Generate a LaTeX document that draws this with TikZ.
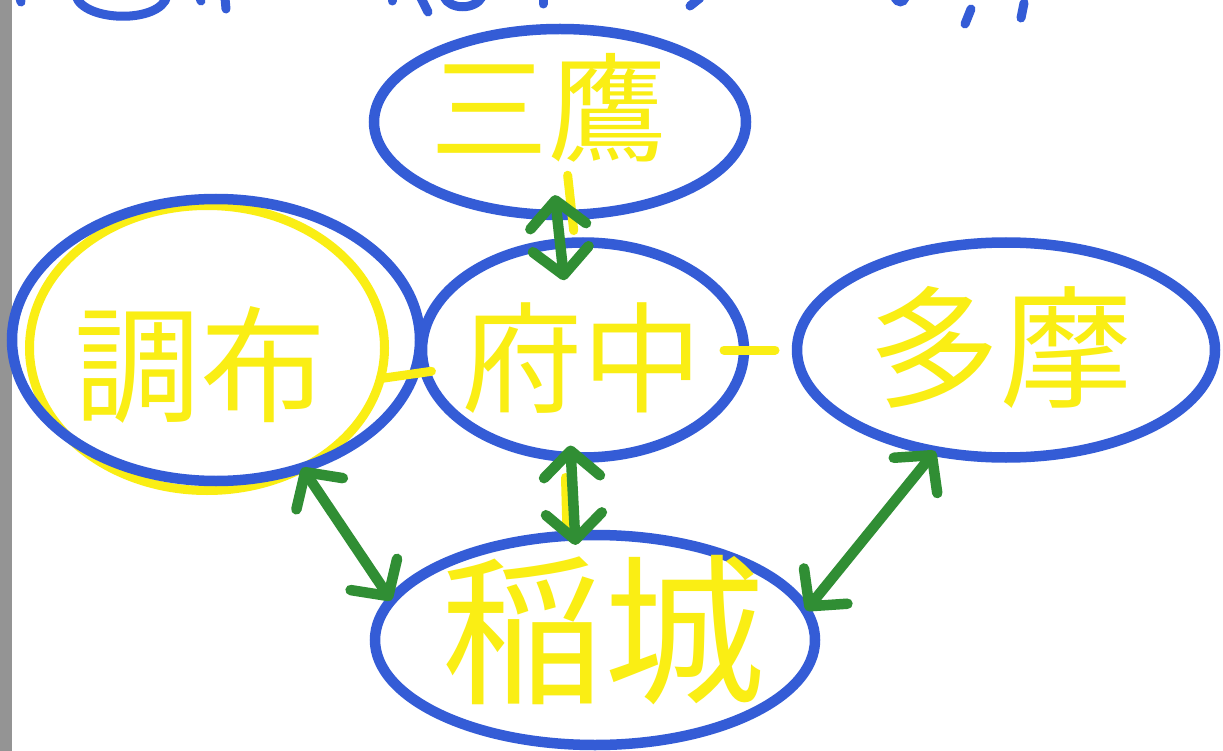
\documentclass[tikz,border=0pt]{standalone}
\usepackage{fontspec}
\newfontfamily\cjk{Noto Sans CJK JP}
\usetikzlibrary{shapes.geometric,arrows.meta}
\definecolor{penblue}{RGB}{52,92,214}
\definecolor{penyellow}{RGB}{250,238,20}
\definecolor{pengreen}{RGB}{48,142,52}
\tikzset{
  region/.style={ellipse,draw=penblue,line width=10.5pt,inner sep=0pt,outer sep=0pt},
  lbl/.style={text=penyellow,inner sep=0pt},
  yline/.style={draw=penyellow,line width=9pt,line cap=round},
  garrow/.style={draw=pengreen,line width=10.5pt,line cap=round,
    arrows={Straight Barb[length=26pt,width=56pt,round]-Straight Barb[length=26pt,width=56pt,round]}},
  bstroke/.style={draw=penblue,line width=9pt,line cap=round}
}
\begin{document}
\begin{tikzpicture}[x=1pt,y=-1pt]
\useasboundingbox (0,0) rectangle (1223,751);
\fill[white] (0,0) rectangle (1223,751);
\fill[black!42] (0,0) rectangle (12,751);
% cut-off handwriting at the top edge
\draw[bstroke] (76,-4) .. controls (84,22) and (160,24) .. (167,-4);
\draw[bstroke] (20,-2) -- (21,2);
\draw[bstroke] (200,-2) -- (201,1);
\draw[bstroke] (225,-2) -- (226,9);
\draw[bstroke] (392,-2) -- (392,1);
\draw[bstroke] (421,-2) -- (428,12);
\draw[bstroke] (444,-3) .. controls (450,10) and (475,10) .. (482,-3);
\draw[bstroke] (543,-2) -- (543,4);
\draw[bstroke] (700,-2) -- (690,6);
\draw[bstroke] (895,-2) .. controls (898,3) and (903,3) .. (905,-2);
\draw[bstroke] (971,9) -- (965,24);
\draw[bstroke] (1024,3) -- (1021,18);
% yellow circle of Chofu
\node[ellipse,draw=penyellow,line width=9pt,inner sep=0pt,outer sep=0pt,
  minimum width=355pt,minimum height=285pt] (chofuY) at (207,348) {};
% regions
\node[region,minimum width=372pt,minimum height=186pt] (mitaka) at (560,122) {};
\node[region,minimum width=408pt,minimum height=282pt] (chofu) at (216,340) {};
\node[region,minimum width=322pt,minimum height=215pt] (fuchu) at (583,350) {};
\node[region,minimum width=418pt,minimum height=215pt] (tama) at (1006,350) {};
\node[region,minimum width=440pt,minimum height=210pt] (inagi) at (595,640) {};
% labels
\node[lbl,font=\cjk\fontsize{118}{118}\selectfont] (mitakaT) at (548,108) {三鷹};
\node[lbl,font=\cjk\fontsize{126}{126}\selectfont] (chofuT) at (200,365) {調布};
\node[lbl,font=\cjk\fontsize{120}{120}\selectfont] (fuchuT) at (582,358) {府中};
\node[lbl,font=\cjk\fontsize{132}{132}\selectfont] (tamaT) at (1000,347) {多摩};
\node[lbl,font=\cjk\fontsize{162}{162}\selectfont] (inagiT) at (603,630) {稲城};
% yellow connectors
\draw[yline,shorten >=-6pt] (chofuY.-10) -- (fuchu.188);
\draw[yline,shorten <=-20pt,shorten >=22pt] (fuchu.east) -- (tama.west);
\draw[yline,shorten <=-40pt,shorten >=12pt] ([xshift=12pt]mitaka.south) -- ([xshift=-8pt]fuchu.north);
\draw[yline,shorten <=20pt,shorten >=6pt] ([xshift=-18pt]fuchu.south) -- ([xshift=-28pt]inagi.north);
% green arrows
\draw[garrow,shorten <=-20pt,shorten >=-38pt] ([xshift=-3pt]mitaka.south) -- ([xshift=-23pt]fuchu.north);
\draw[garrow,shorten <=-12pt,shorten >=-10pt] ([xshift=-12pt]fuchu.south) -- ([xshift=-20pt]inagi.north);
\draw[garrow] (chofu.-56) -- (inagi.169);
\draw[garrow] (tama.-125) -- (inagi.8);
\end{tikzpicture}
\end{document}
